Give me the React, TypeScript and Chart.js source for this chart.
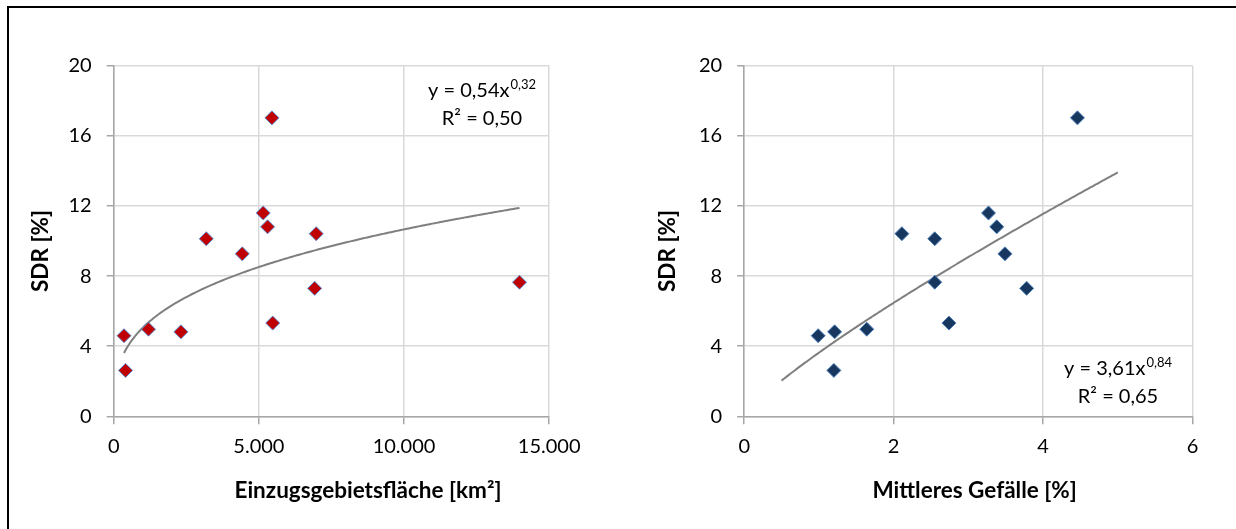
import React, { useEffect, useRef } from 'react';
import { Chart, registerables } from 'chart.js';

Chart.register(...registerables);

// ---- data (one entry per catchment, same order in every array) ----
const AREA_KM2 = [355, 409, 1198, 2316, 3188, 4428, 5150, 5300, 5450, 5477, 6975, 6920, 13977];
const SLOPE_PCT = [0.99, 1.2, 1.64, 1.21, 2.55, 3.49, 3.27, 3.38, 4.46, 2.74, 2.11, 3.78, 2.55];
const SDR_PCT = [4.6, 2.62, 4.97, 4.82, 10.13, 9.27, 11.6, 10.81, 17.03, 5.32, 10.42, 7.3, 7.65];

const Y_TICK_LABELS = ['0', '4', '8', '12', '16', '20'];
const AREA_TICK_LABELS = ['0', '5.000', '10.000', '15.000'];
const SLOPE_TICK_LABELS = ['0', '2', '4', '6'];

const AREA_EQ = ['y = 0,54x', '0,32', 'R² = 0,50'];
const SLOPE_EQ = ['y = 3,61x', '0,84', 'R² = 0,65'];
const SLOPE_TREND_RANGE = [0.5, 5]; // trendline forecast range as in the source

const FONT = 'Lato, "Open Sans", sans-serif';

// power trendline (least squares on ln x / ln y, as spreadsheet software does)
function powerFit(xs: number[], ys: number[]) {
  const lx = xs.map(Math.log);
  const ly = ys.map(Math.log);
  const n = xs.length;
  const mx = lx.reduce((s, v) => s + v, 0) / n;
  const my = ly.reduce((s, v) => s + v, 0) / n;
  let sxy = 0;
  let sxx = 0;
  for (let i = 0; i < n; i++) {
    sxy += (lx[i] - mx) * (ly[i] - my);
    sxx += (lx[i] - mx) * (lx[i] - mx);
  }
  const b = sxy / sxx;
  const a = Math.exp(my - b * mx);
  return { a, b };
}

function trendPoints(xs: number[], ys: number[], x0: number, x1: number) {
  const { a, b } = powerFit(xs, ys);
  const pts: { x: number; y: number }[] = [];
  const n = 200;
  for (let i = 0; i <= n; i++) {
    const x = x0 + ((x1 - x0) * i) / n;
    pts.push({ x, y: a * Math.pow(x, b) });
  }
  return pts;
}

type PanelCfg = {
  left: number;
  width: number;
  xs: number[];
  xMax: number;
  xStep: number;
  xLabels: string[];
  trendRange: number[];
  fill: string;
  stroke: string;
  yAxisWidth: number;
  padRight: number;
  xTitle: string;
  xTitlePos: number[];
  yTitlePos: number[];
  eq: string[];
  eqPos: number[];
};

const H = 529;

function Panel({ cfg }: { cfg: PanelCfg }) {
  const ref = useRef<HTMLCanvasElement>(null);
  useEffect(() => {
    const canvas = ref.current!;
    const textPlugin = {
      id: 'panelText',
      afterDraw(chart: any) {
        const ctx = chart.ctx as CanvasRenderingContext2D;
        ctx.save();
        ctx.fillStyle = '#000';
        ctx.textAlign = 'center';
        ctx.textBaseline = 'middle';
        ctx.font = `bold 22.5px ${FONT}`;
        ctx.fillText(cfg.xTitle, cfg.xTitlePos[0], cfg.xTitlePos[1]);
        ctx.save();
        ctx.translate(cfg.yTitlePos[0], cfg.yTitlePos[1]);
        ctx.rotate(-Math.PI / 2);
        ctx.fillText('SDR [%]', 0, 0);
        ctx.restore();

        const [cx, b1, b2] = cfg.eqPos;
        ctx.textBaseline = 'alphabetic';
        ctx.textAlign = 'left';
        ctx.font = `20px ${FONT}`;
        const w1 = ctx.measureText(cfg.eq[0]).width;
        ctx.font = `13px ${FONT}`;
        const w2 = ctx.measureText(cfg.eq[1]).width;
        const x0 = cx - (w1 + w2 + 1) / 2;
        ctx.font = `20px ${FONT}`;
        ctx.fillText(cfg.eq[0], x0, b1);
        ctx.font = `13px ${FONT}`;
        ctx.fillText(cfg.eq[1], x0 + w1 + 1, b1 - 8);
        ctx.font = `20px ${FONT}`;
        ctx.textAlign = 'center';
        ctx.fillText(cfg.eq[2], cx, b2);
        ctx.restore();
      },
    };

    const points = cfg.xs.map((x, i) => ({ x, y: SDR_PCT[i] }));
    const trend = trendPoints(cfg.xs, SDR_PCT, cfg.trendRange[0], cfg.trendRange[1]);

    const chart = new Chart(canvas, {
      type: 'scatter',
      data: {
        datasets: [
          {
            data: points,
            pointStyle: 'rectRot',
            pointRadius: 7,
            pointHoverRadius: 7,
            backgroundColor: cfg.fill,
            borderColor: cfg.stroke,
            borderWidth: 1,
            order: 1,
          } as any,
          {
            type: 'line',
            data: trend,
            borderColor: '#7F7F7F',
            borderWidth: 2,
            pointRadius: 0,
            fill: false,
            tension: 0,
            order: 2,
          } as any,
        ],
      },
      options: {
        responsive: false,
        animation: false,
        devicePixelRatio: 1,
        layout: { padding: { top: 65.8, right: cfg.padRight, bottom: 0, left: 0 } },
        plugins: { legend: { display: false }, tooltip: { enabled: false } },
        scales: {
          x: {
            type: 'linear',
            min: 0,
            max: cfg.xMax,
            ticks: {
              stepSize: cfg.xStep,
              padding: 10,
              color: '#000',
              font: { family: FONT, size: 20 },
              maxRotation: 0,
              callback: (_v: any, i: number) => cfg.xLabels[i],
            },
            grid: { color: '#D9D9D9', lineWidth: 1.5, tickLength: 8, tickColor: '#A6A6A6' },
            border: { color: '#A6A6A6', width: 1.5 },
            afterFit: (s: any) => {
              s.height = H - 416.3;
            },
          },
          y: {
            type: 'linear',
            min: 0,
            max: 20,
            ticks: {
              stepSize: 4,
              padding: 15,
              color: '#000',
              font: { family: FONT, size: 20 },
              callback: (_v: any, i: number) => Y_TICK_LABELS[i],
            },
            grid: { color: '#D9D9D9', lineWidth: 1.5, tickLength: 7, tickColor: '#A6A6A6' },
            border: { color: '#A6A6A6', width: 1.5 },
            afterFit: (s: any) => {
              s.width = cfg.yAxisWidth;
            },
          },
        },
      } as any,
      plugins: [textPlugin],
    });
    return () => chart.destroy();
  }, []);
  return (
    <canvas
      ref={ref}
      width={cfg.width}
      height={H}
      style={{ position: 'absolute', left: cfg.left, top: 0, width: cfg.width, height: H }}
    />
  );
}

const LEFT: PanelCfg = {
  left: 0,
  width: 620,
  xs: AREA_KM2,
  xMax: 15000,
  xStep: 5000,
  xLabels: AREA_TICK_LABELS,
  trendRange: [Math.min(...AREA_KM2), Math.max(...AREA_KM2)],
  fill: '#C00000',
  stroke: '#5B8FD0',
  yAxisWidth: 113.7,
  padRight: 620 - 549.2,
  xTitle: 'Einzugsgebietsfläche [km²]',
  xTitlePos: [368, 491],
  yTitlePos: [41, 251],
  eq: AREA_EQ,
  eqPos: [482, 97, 125],
};

const RIGHT: PanelCfg = {
  left: 620,
  width: 616,
  xs: SLOPE_PCT,
  xMax: 6,
  xStep: 2,
  xLabels: SLOPE_TICK_LABELS,
  trendRange: SLOPE_TREND_RANGE,
  fill: '#17375E',
  stroke: '#4F81BD',
  yAxisWidth: 124.2,
  padRight: 616 - 572.5,
  xTitle: 'Mittleres Gefälle [%]',
  xTitlePos: [354.6, 491],
  yTitlePos: [48, 251],
  eq: SLOPE_EQ,
  eqPos: [498, 375, 403],
};

export default function App() {
  return (
    <div
      style={{
        position: 'absolute',
        left: 0,
        top: 0,
        width: 1236,
        height: H,
        overflow: 'hidden',
        background: '#fff',
      }}
    >
      <Panel cfg={LEFT} />
      <Panel cfg={RIGHT} />
      <div
        style={{
          position: 'absolute',
          left: 7,
          top: 6,
          width: 1229,
          height: 523,
          borderLeft: '2px solid #000',
          borderTop: '2px solid #000',
          pointerEvents: 'none',
        }}
      />
    </div>
  );
}
